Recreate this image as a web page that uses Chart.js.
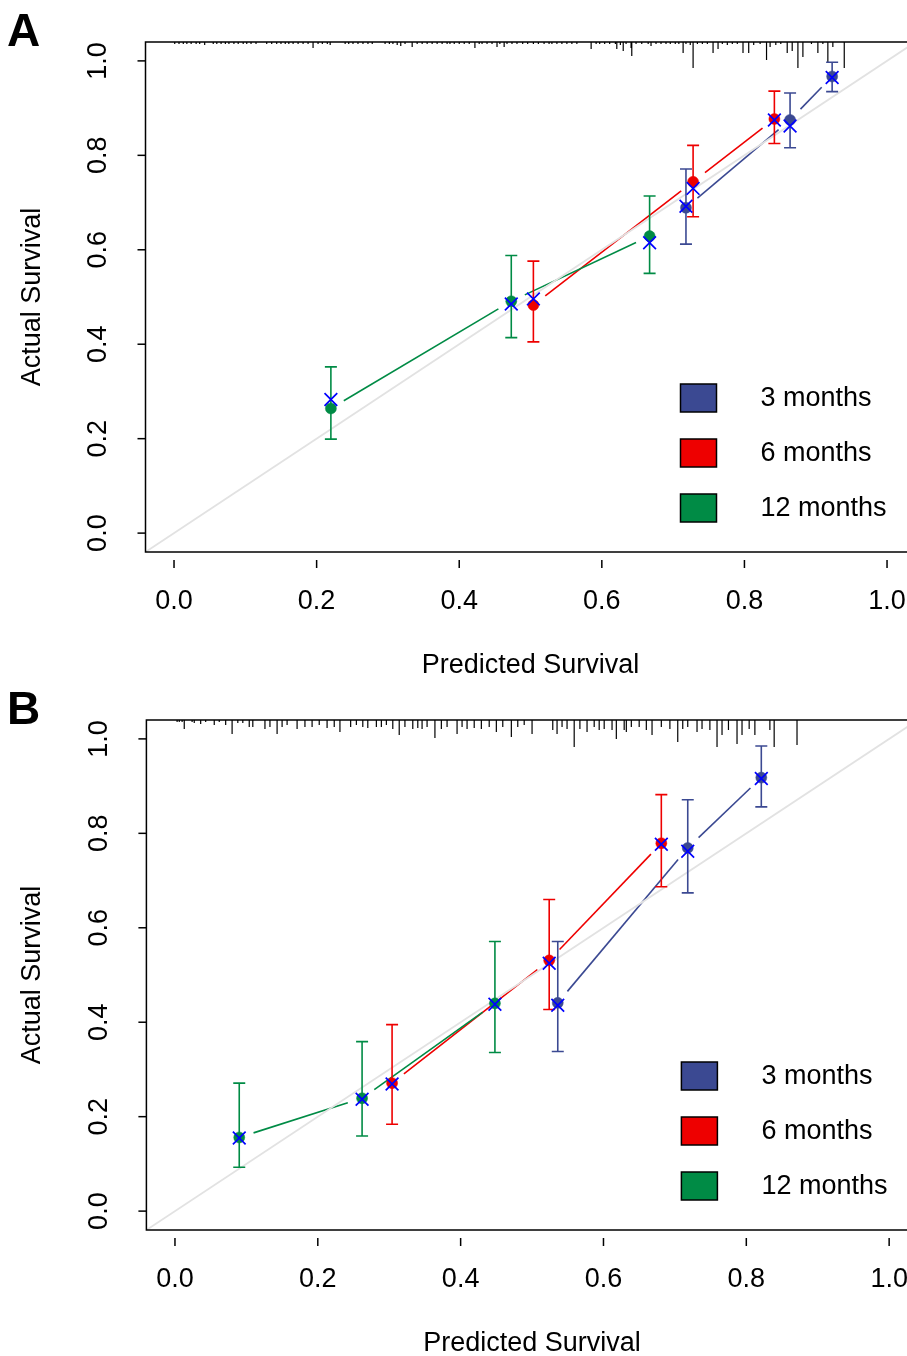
<!DOCTYPE html>
<html>
<head>
<meta charset="utf-8">
<script src="https://cdn.jsdelivr.net/npm/chart.js@4.4.1/dist/chart.umd.min.js"></script>
<style>
  body { margin: 0; background: #fff; }
  .panel { position: absolute; left: 0; width: 907px; height: 678px; }
</style>
</head>
<body>
<canvas id="chartA" class="panel" width="907" height="678" style="top:0"></canvas>
<canvas id="chartB" class="panel" width="907" height="678" style="top:678px"></canvas>
<script>
// Shared labels, colours and ticks
var seriesLabels = ['3 months', '6 months', '12 months'];
var seriesColors = ['#3B4992', '#EE0000', '#008B45'];
var xTicks = [0.0, 0.2, 0.4, 0.6, 0.8, 1.0];
var yTicks = [0.0, 0.2, 0.4, 0.6, 0.8, 1.0];
var xTitle = 'Predicted Survival';
var yTitle = 'Actual Survival';

// Panel A: predicted, observed, CI low/high, bias-corrected
var predA3 = [0.718, 0.864, 0.923];
var obsA3 = [0.689, 0.875, 0.967];
var loA3 = [0.612, 0.816, 0.935];
var hiA3 = [0.771, 0.932, 0.997];
var corA3 = [0.692, 0.862, 0.965];

var predA6 = [0.504, 0.728, 0.842];
var obsA6 = [0.483, 0.744, 0.877];
var loA6 = [0.405, 0.670, 0.825];
var hiA6 = [0.576, 0.821, 0.936];
var corA6 = [0.496, 0.730, 0.875];

var predA12 = [0.220, 0.473, 0.667];
var obsA12 = [0.264, 0.491, 0.629];
var loA12 = [0.199, 0.414, 0.550];
var hiA12 = [0.352, 0.588, 0.714];
var corA12 = [0.283, 0.485, 0.615];

// Panel B
var predB3 = [0.536, 0.718, 0.821];
var obsB3 = [0.441, 0.769, 0.918];
var loB3 = [0.338, 0.674, 0.856];
var hiB3 = [0.571, 0.871, 0.985];
var corB3 = [0.436, 0.762, 0.916];

var predB6 = [0.304, 0.524, 0.681];
var obsB6 = [0.271, 0.531, 0.779];
var loB6 = [0.184, 0.427, 0.687];
var hiB6 = [0.395, 0.660, 0.882];
var corB6 = [0.269, 0.525, 0.777];

var predB12 = [0.090, 0.262, 0.448];
var obsB12 = [0.156, 0.239, 0.440];
var loB12 = [0.093, 0.159, 0.336];
var hiB12 = [0.271, 0.359, 0.571];
var corB12 = [0.155, 0.237, 0.438];

// Rug of predicted values along the top (position, frequency)
var rugAX = [0.001, 0.007, 0.013, 0.018, 0.024, 0.031, 0.036, 0.043, 0.055, 0.060, 0.066, 0.072, 0.077, 0.084,
  0.090, 0.097, 0.102, 0.108, 0.115, 0.130, 0.137, 0.144, 0.150, 0.156, 0.161, 0.167, 0.174, 0.181, 0.188,
  0.195, 0.202, 0.208, 0.215, 0.219, 0.240, 0.245, 0.251, 0.258, 0.265, 0.272, 0.278, 0.296, 0.302, 0.307,
  0.313, 0.318, 0.324, 0.334, 0.341, 0.348, 0.355, 0.362, 0.369, 0.376, 0.383, 0.387, 0.393, 0.400, 0.407,
  0.414, 0.422, 0.428, 0.432, 0.439, 0.446, 0.453, 0.457, 0.463, 0.467, 0.474, 0.481, 0.489, 0.496, 0.504,
  0.511, 0.519, 0.526, 0.530, 0.537, 0.544, 0.551, 0.558, 0.565, 0.585, 0.592, 0.597, 0.604, 0.611, 0.619,
  0.621, 0.626, 0.630, 0.634, 0.641, 0.642, 0.648, 0.656, 0.665, 0.669, 0.676, 0.683, 0.690, 0.696, 0.703,
  0.708, 0.714, 0.718, 0.724, 0.728, 0.734, 0.741, 0.748, 0.756, 0.763, 0.769, 0.776, 0.783, 0.790, 0.798,
  0.806, 0.813, 0.822, 0.831, 0.836, 0.844, 0.851, 0.860, 0.867, 0.875, 0.882, 0.894, 0.903, 0.910, 0.917,
  0.924, 0.940];
var rugAN = [1, 1, 1, 1, 1, 1, 1, 2, 1, 1, 1, 1, 1, 1,
  1, 1, 1, 1, 1, 1, 1, 1, 1, 1, 1, 1, 1, 1, 1,
  5, 1, 1, 1, 2, 1, 1, 1, 1, 1, 1, 1, 1, 1, 1,
  2, 3, 1, 4, 1, 1, 1, 1, 1, 1, 1, 1, 1, 1, 1,
  1, 5, 1, 1, 1, 1, 4, 1, 4, 1, 1, 1, 1, 1, 1,
  1, 1, 1, 1, 1, 1, 1, 1, 1, 6, 1, 1, 1, 1, 1,
  6, 2, 8, 1, 5, 13, 1, 1, 1, 3, 1, 1, 1, 1, 1,
  1, 10, 1, 2, 25, 1, 1, 1, 10, 6, 1, 2, 1, 1, 10,
  10, 2, 1, 17, 4, 2, 1, 10, 8, 25, 14, 1, 10, 1, 20,
  4, 25];

var rugBX = [0.003, 0.006, 0.010, 0.013, 0.024, 0.027, 0.036, 0.043, 0.055, 0.062, 0.071, 0.080, 0.088, 0.095,
  0.104, 0.109, 0.126, 0.133, 0.143, 0.150, 0.157, 0.171, 0.182, 0.192, 0.202, 0.213, 0.223, 0.231, 0.246,
  0.254, 0.263, 0.270, 0.282, 0.289, 0.296, 0.305, 0.314, 0.322, 0.333, 0.340, 0.346, 0.353, 0.364, 0.373,
  0.381, 0.395, 0.402, 0.409, 0.419, 0.429, 0.440, 0.450, 0.459, 0.471, 0.480, 0.489, 0.500, 0.529, 0.535,
  0.542, 0.549, 0.559, 0.567, 0.577, 0.587, 0.594, 0.601, 0.612, 0.618, 0.629, 0.632, 0.639, 0.650, 0.660,
  0.668, 0.681, 0.693, 0.704, 0.711, 0.718, 0.731, 0.738, 0.749, 0.759, 0.766, 0.775, 0.787, 0.794, 0.804,
  0.812, 0.833, 0.839, 0.871];
var rugBN = [1, 1, 1, 8, 1, 2, 3, 1, 4, 1, 4, 13, 2, 2,
  6, 6, 8, 6, 13, 6, 4, 8, 6, 6, 4, 7, 6, 11, 6,
  4, 6, 7, 6, 6, 4, 8, 14, 6, 8, 7, 8, 6, 17, 8,
  6, 13, 6, 8, 7, 8, 6, 11, 6, 16, 6, 4, 13, 9, 13,
  6, 8, 26, 8, 11, 6, 9, 8, 9, 18, 9, 11, 6, 6, 9,
  14, 6, 8, 21, 8, 6, 11, 8, 9, 26, 14, 9, 23, 14, 8,
  14, 9, 26, 24];

// axis limits (R style 4% extension)
var axisLo = -0.04;
var axisHi = 1.04;
var rugPx = 1 / 472;

var FONT = '"Liberation Sans", Arial, Helvetica, sans-serif';

function buildPanel(canvasId, letter, series, rugX, rugN, leftPad, xMax) {
  var datasets = [];

  series.forEach(function (s, i) {
    datasets.push({
      label: seriesLabels[i] + ' corrected',
      data: s.pred.map(function (p, k) { return { x: p, y: s.cor[k] }; }),
      pointStyle: 'crossRot',
      pointRadius: 9,
      pointBorderColor: '#0000FF',
      pointBorderWidth: 1.7,
      order: 0,
    });
  });
  series.forEach(function (s, i) {
    datasets.push({
      label: seriesLabels[i],
      data: s.pred.map(function (p, k) { return { x: p, y: s.obs[k] }; }),
      pointStyle: 'circle',
      pointRadius: 5.5,
      pointBackgroundColor: seriesColors[i],
      pointBorderColor: seriesColors[i],
      pointBorderWidth: 0.5,
      order: 1,
    });
  });
  series.forEach(function (s, i) {
    var bars = [];
    s.pred.forEach(function (p, k) {
      bars.push({ x: p, y: s.lo[k] }, { x: p, y: s.hi[k] }, { x: p, y: null });
    });
    datasets.push({
      label: seriesLabels[i] + ' CI',
      data: bars,
      showLine: true,
      spanGaps: false,
      borderColor: seriesColors[i],
      borderWidth: 1.6,
      pointStyle: 'line',
      pointRadius: 6,
      pointBorderColor: seriesColors[i],
      pointBorderWidth: 1.6,
      order: 2,
    });
  });

  var rug = [];
  rugX.forEach(function (v, k) {
    rug.push({ x: v, y: axisHi }, { x: v, y: axisHi - (rugN[k] + 1) * rugPx }, { x: v, y: null });
  });
  datasets.push({
    label: 'rug',
    data: rug,
    showLine: true,
    spanGaps: false,
    borderColor: '#000',
    borderWidth: 1.2,
    pointRadius: 0,
    order: 3,
  });

  datasets.push({
    label: 'ideal',
    data: [{ x: axisLo, y: axisLo }, { x: axisHi, y: axisHi }],
    showLine: true,
    borderColor: '#E2E2E2',
    borderWidth: 1.8,
    pointRadius: 0,
    order: 4,
  });

  // lines between observed points, R type = "b" (gap around each point)
  var gapLines = {
    id: 'gapLines',
    beforeDatasetsDraw: function (chart) {
      var xs = chart.scales.x, ys = chart.scales.y, ctx = chart.ctx;
      var gap = 15;
      ctx.save();
      ctx.lineWidth = 1.6;
      series.forEach(function (s, i) {
        ctx.strokeStyle = seriesColors[i];
        for (var k = 0; k < s.pred.length - 1; k++) {
          var x1 = xs.getPixelForValue(s.pred[k]), y1 = ys.getPixelForValue(s.obs[k]);
          var x2 = xs.getPixelForValue(s.pred[k + 1]), y2 = ys.getPixelForValue(s.obs[k + 1]);
          var len = Math.hypot(x2 - x1, y2 - y1);
          if (len <= 2 * gap) continue;
          var ux = (x2 - x1) / len, uy = (y2 - y1) / len;
          ctx.beginPath();
          ctx.moveTo(x1 + ux * gap, y1 + uy * gap);
          ctx.lineTo(x2 - ux * gap, y2 - uy * gap);
          ctx.stroke();
        }
      });
      ctx.restore();
    },
  };

  // frame, axes, titles, legend, panel letter
  var decor = {
    id: 'decor',
    afterDraw: function (chart) {
      var ctx = chart.ctx, a = chart.chartArea;
      var xs = chart.scales.x, ys = chart.scales.y;
      ctx.save();
      ctx.strokeStyle = '#000';
      ctx.fillStyle = '#000';
      ctx.lineWidth = 1.5;
      ctx.strokeRect(a.left, a.top, a.right - a.left + 30, a.bottom - a.top);

      ctx.font = '27px ' + FONT;
      ctx.textAlign = 'center';
      ctx.textBaseline = 'middle';
      xTicks.forEach(function (t) {
        var px = xs.getPixelForValue(t);
        ctx.beginPath();
        ctx.moveTo(px, a.bottom + 8);
        ctx.lineTo(px, a.bottom + 16);
        ctx.stroke();
        ctx.fillText(t.toFixed(1), px, a.bottom + 50);
      });
      yTicks.forEach(function (t) {
        var py = ys.getPixelForValue(t);
        ctx.beginPath();
        ctx.moveTo(a.left - 8, py);
        ctx.lineTo(a.left, py);
        ctx.stroke();
        ctx.save();
        ctx.translate(a.left - 47, py);
        ctx.rotate(-Math.PI / 2);
        ctx.fillText(t.toFixed(1), 0, 0);
        ctx.restore();
      });

      var midX = xs.getPixelForValue((axisLo + axisHi) / 2);
      var midY = ys.getPixelForValue((axisLo + axisHi) / 2);
      ctx.fillText(xTitle, midX, a.bottom + 114);
      ctx.save();
      ctx.translate(33, midY);
      ctx.rotate(-Math.PI / 2);
      ctx.fillText(yTitle, 0, 0);
      ctx.restore();

      // legend
      ctx.textAlign = 'left';
      seriesLabels.forEach(function (lab, i) {
        var bx = a.left + 535, by = a.top + 342 + i * 55;
        ctx.fillStyle = seriesColors[i];
        ctx.fillRect(bx, by, 36, 28);
        ctx.strokeStyle = '#000';
        ctx.lineWidth = 1.5;
        ctx.strokeRect(bx, by, 36, 28);
        ctx.fillStyle = '#000';
        ctx.fillText(lab, bx + 80, by + 15);
      });

      ctx.font = 'bold 46px ' + FONT;
      ctx.textBaseline = 'alphabetic';
      ctx.fillText(letter, 7, 46);
      ctx.restore();
    },
  };

  return new Chart(document.getElementById(canvasId).getContext('2d'), {
    type: 'scatter',
    data: { datasets: datasets },
    options: {
      responsive: false,
      animation: false,
      events: [],
      layout: { autoPadding: false, padding: { left: leftPad, top: 42, right: 0, bottom: 126 } },
      elements: { line: { tension: 0, borderCapStyle: 'butt' } },
      plugins: { legend: { display: false }, tooltip: { enabled: false } },
      scales: {
        x: { type: 'linear', display: false, min: axisLo, max: xMax },
        y: { type: 'linear', display: false, min: axisLo, max: axisHi },
      },
    },
    plugins: [gapLines, decor],
  });
}

var seriesA = [
  { pred: predA3, obs: obsA3, lo: loA3, hi: hiA3, cor: corA3 },
  { pred: predA6, obs: obsA6, lo: loA6, hi: hiA6, cor: corA6 },
  { pred: predA12, obs: obsA12, lo: loA12, hi: hiA12, cor: corA12 },
];
var seriesB = [
  { pred: predB3, obs: obsB3, lo: loB3, hi: hiB3, cor: corB3 },
  { pred: predB6, obs: obsB6, lo: loB6, hi: hiB6, cor: corB6 },
  { pred: predB12, obs: obsB12, lo: loB12, hi: hiB12, cor: corB12 },
];

buildPanel('chartA', 'A', seriesA, rugAX, rugAN, 145.5, 1.028);
buildPanel('chartB', 'B', seriesB, rugBX, rugBN, 146.4, 1.025);
</script>
</body>
</html>
